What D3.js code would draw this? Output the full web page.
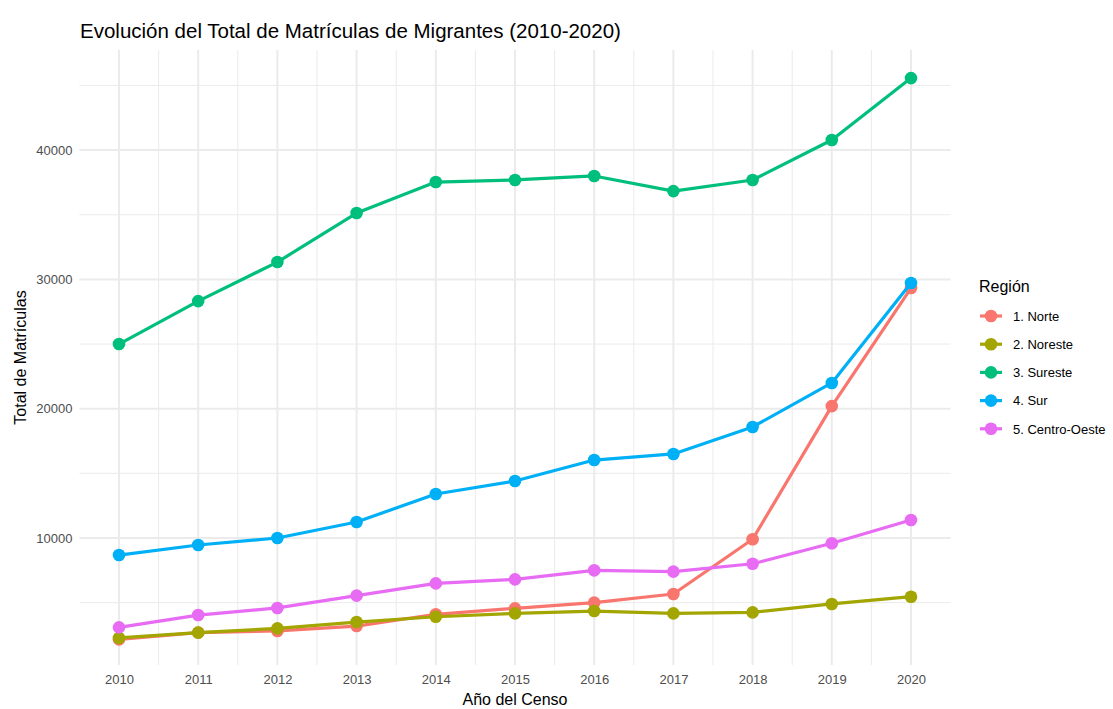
<!DOCTYPE html>
<html><head><meta charset="utf-8">
<script src="https://cdn.jsdelivr.net/npm/d3@7"></script>
<style>body{margin:0;background:#fff;font-family:"Liberation Sans",Arial,sans-serif;}</style>
</head><body>
<svg id="c" width="1113" height="709"></svg>
<script>
const years = [2010,2011,2012,2013,2014,2015,2016,2017,2018,2019,2020];
const regions = ["1. Norte","2. Noreste","3. Sureste","4. Sur","5. Centro-Oeste"];
const colors = ["#F8766D","#A3A500","#00BF7D","#00B0F6","#E76BF3"];
const norte = [2160,2680,2810,3190,4100,4560,5000,5670,9900,20200,29330];
const noreste = [2270,2680,3010,3500,3910,4170,4350,4170,4250,4900,5460];
const sureste = [25000,28320,31340,35130,37530,37690,38000,36830,37690,40780,45570];
const sur = [8680,9460,10000,11240,13400,14410,16030,16500,18590,21990,29720];
const centroOeste = [3090,4040,4590,5540,6490,6800,7500,7400,8010,9590,11390];
const yTicks = [10000,20000,30000,40000];
const yMinor = [5000,15000,25000,35000,45000];
const seriesValues = [norte,noreste,sureste,sur,centroOeste];

const svg = d3.select("#c");
const L=79.4, R=950.6, T=50, B=665;
const x = d3.scaleLinear().domain([2009.5,2020.5]).range([L,R]);
const y = d3.scaleLinear().domain([0,10000]).range([667.3,538]);

const g = svg.append("g");
const xMinor = years.slice(0,-1).map(v=>v+0.5);
g.selectAll(".vmin").data(xMinor).enter().append("line")
 .attr("x1",d=>x(d)).attr("x2",d=>x(d)).attr("y1",T).attr("y2",B)
 .attr("stroke","#EBEBEB").attr("stroke-width",1);
g.selectAll(".hmin").data(yMinor).enter().append("line")
 .attr("x1",L).attr("x2",R).attr("y1",d=>y(d)).attr("y2",d=>y(d))
 .attr("stroke","#EBEBEB").attr("stroke-width",1);
g.selectAll(".vmaj").data(years).enter().append("line")
 .attr("x1",d=>x(d)).attr("x2",d=>x(d)).attr("y1",T).attr("y2",B)
 .attr("stroke","#EBEBEB").attr("stroke-width",2);
g.selectAll(".hmaj").data(yTicks).enter().append("line")
 .attr("x1",L).attr("x2",R).attr("y1",d=>y(d)).attr("y2",d=>y(d))
 .attr("stroke","#EBEBEB").attr("stroke-width",2);

const xAxis = d3.axisBottom(x).tickValues(years).tickFormat(d3.format("d")).tickSize(0).tickPadding(0);
const xa = svg.append("g").attr("transform",`translate(0,${B+10})`).call(xAxis);
xa.select(".domain").remove();
xa.selectAll("text").attr("fill","#4D4D4D").style("font-size","13px").attr("font-family","Liberation Sans, Arial, sans-serif");
const yAxis = d3.axisLeft(y).tickValues(yTicks).tickFormat(d3.format("d")).tickSize(0).tickPadding(0);
const ya = svg.append("g").attr("transform",`translate(${L-7},0)`).call(yAxis);
ya.select(".domain").remove();
ya.selectAll("text").attr("fill","#4D4D4D").style("font-size","13px").attr("font-family","Liberation Sans, Arial, sans-serif");

const line = d3.line().x((d,i)=>x(years[i])).y(d=>y(d));
seriesValues.forEach((vals,k)=>{
  svg.append("path").datum(vals).attr("d",line).attr("fill","none")
    .attr("stroke",colors[k]).attr("stroke-width",3.2).attr("stroke-linejoin","round");
  svg.selectAll(".p"+k).data(vals).enter().append("circle")
    .attr("cx",(d,i)=>x(years[i])).attr("cy",d=>y(d)).attr("r",6.3).attr("fill",colors[k]);
});

svg.append("text").attr("x",80).attr("y",38).text("Evolución del Total de Matrículas de Migrantes (2010-2020)")
  .style("font-size","20.5px").attr("fill","#000");
svg.append("text").attr("x",(L+R)/2).attr("y",705).attr("text-anchor","middle").text("Año del Censo")
  .style("font-size","16px").attr("fill","#000");
svg.append("text").attr("transform",`translate(26,${(T+B)/2}) rotate(-90)`).attr("text-anchor","middle")
  .text("Total de Matrículas").style("font-size","16px").attr("fill","#000");

svg.append("text").attr("x",979).attr("y",292).text("Región").style("font-size","16px").attr("fill","#000");
regions.forEach((r,k)=>{
  const cy = 316 + k*28.2;
  svg.append("line").attr("x1",980).attr("x2",1002).attr("y1",cy).attr("y2",cy)
    .attr("stroke",colors[k]).attr("stroke-width",3.2);
  svg.append("circle").attr("cx",991).attr("cy",cy).attr("r",6.3).attr("fill",colors[k]);
  svg.append("text").attr("x",1013).attr("y",cy+4.7).text(r).style("font-size","13px").attr("fill","#000");
});
</script>
</body></html>
